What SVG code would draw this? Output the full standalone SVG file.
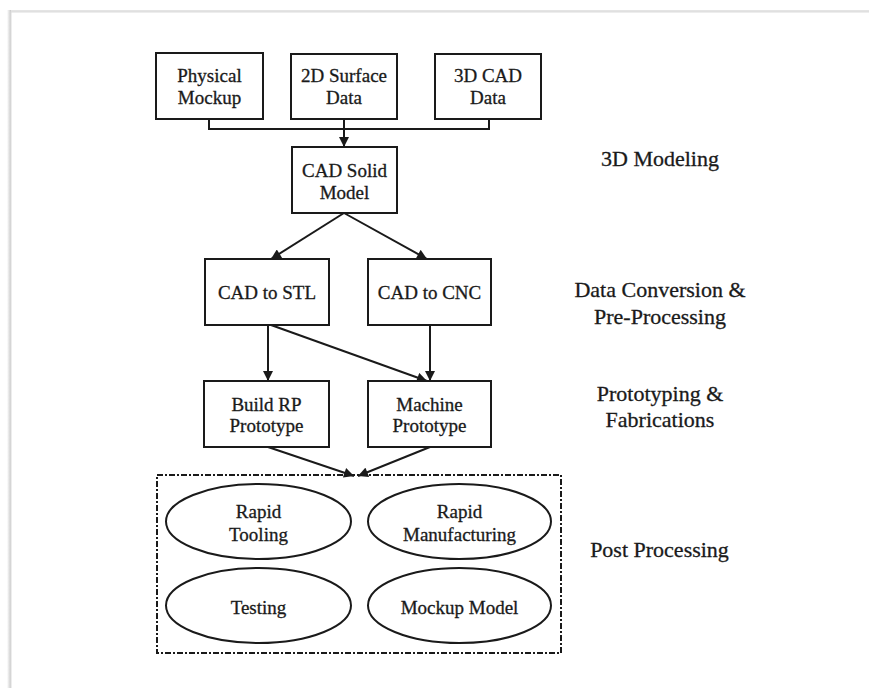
<svg xmlns="http://www.w3.org/2000/svg" width="869" height="688" viewBox="0 0 869 688">
<defs>
<marker id="arr" viewBox="0 0 10 10" refX="10" refY="5" markerWidth="5.5" markerHeight="5" orient="auto" markerUnits="strokeWidth">
<path d="M0,0 L10,5 L0,10 z" fill="#1a1a1a"/>
</marker>
<linearGradient id="shadow" x1="0" x2="1" y1="0" y2="0">
<stop offset="0" stop-color="#ffffff"/>
<stop offset="0.5" stop-color="#c8c8c8"/>
<stop offset="1" stop-color="#ffffff"/>
</linearGradient>
</defs>
<style>
.box{fill:#fff;stroke:#1a1a1a;stroke-width:2}
.ell{fill:#fff;stroke:#1a1a1a;stroke-width:2}
.t{font-family:"Liberation Serif","Times New Roman",serif;font-size:19px;fill:#1a1a1a;stroke:#1a1a1a;stroke-width:0.3;text-anchor:middle}
.lab{font-family:"Liberation Serif","Times New Roman",serif;font-size:22px;fill:#1a1a1a;stroke:#1a1a1a;stroke-width:0.3;text-anchor:middle}
.c{fill:none;stroke:#1a1a1a;stroke-width:2}
.ca{fill:none;stroke:#1a1a1a;stroke-width:2;marker-end:url(#arr)}
</style>
<rect width="869" height="688" fill="#fff"/>
<g id="frame">
<rect x="7" y="10" width="8" height="690" fill="url(#shadow)"/>
<rect x="11" y="10" width="870" height="2" fill="#e4e4e4"/>
<rect x="11" y="12" width="860" height="690" fill="#fff" stroke="#dcdcdc" stroke-width="1"/>
</g>
<g id="connectors">
<polyline class="c" points="209,119 209,129 489,129 489,119"/>
<line class="ca" x1="344" y1="119" x2="344" y2="147"/>
<line class="ca" x1="344" y1="213" x2="271" y2="259"/>
<line class="ca" x1="344" y1="213" x2="427" y2="259"/>
<line class="ca" x1="268" y1="325" x2="268" y2="381"/>
<line class="ca" x1="430" y1="325" x2="430" y2="381"/>
<line class="ca" x1="271" y1="325" x2="427" y2="381"/>
<line class="ca" x1="268" y1="447" x2="354" y2="476"/>
<line class="ca" x1="430" y1="447" x2="358" y2="476"/>
</g>
<g id="physical-mockup">
<rect class="box" x="156" y="53" width="107" height="66"/>
<text class="t" x="209.5" y="82">Physical</text>
<text class="t" x="209.5" y="104">Mockup</text>
</g>
<g id="surface-data">
<rect class="box" x="291" y="54" width="106" height="65"/>
<text class="t" x="344" y="82">2D Surface</text>
<text class="t" x="344" y="104">Data</text>
</g>
<g id="cad-data">
<rect class="box" x="435" y="54" width="106" height="65"/>
<text class="t" x="488" y="82">3D CAD</text>
<text class="t" x="488" y="104">Data</text>
</g>
<g id="cad-solid">
<rect class="box" x="292" y="147" width="105" height="66"/>
<text class="t" x="344.5" y="177">CAD Solid</text>
<text class="t" x="344.5" y="199">Model</text>
</g>
<g id="cad-stl">
<rect class="box" x="205" y="259" width="124" height="66"/>
<text class="t" x="267" y="299">CAD to STL</text>
</g>
<g id="cad-cnc">
<rect class="box" x="368" y="259" width="123" height="66"/>
<text class="t" x="429.5" y="299">CAD to CNC</text>
</g>
<g id="build-rp">
<rect class="box" x="204" y="381" width="125" height="66"/>
<text class="t" x="266.5" y="411">Build RP</text>
<text class="t" x="266.5" y="432">Prototype</text>
</g>
<g id="machine">
<rect class="box" x="368" y="381" width="123" height="66"/>
<text class="t" x="429.5" y="411">Machine</text>
<text class="t" x="429.5" y="432">Prototype</text>
</g>
<g id="post-processing-box">
<rect x="157" y="475" width="404" height="178" fill="none" stroke="#1a1a1a" stroke-width="2" stroke-dasharray="6 2 2 2"/>
</g>
<g id="rapid-tooling">
<ellipse class="ell" cx="258.5" cy="521.5" rx="92.5" ry="37.5"/>
<text class="t" x="258.5" y="518">Rapid</text>
<text class="t" x="258.5" y="541">Tooling</text>
</g>
<g id="rapid-manufacturing">
<ellipse class="ell" cx="459.5" cy="521.5" rx="91.5" ry="37.5"/>
<text class="t" x="459.5" y="518">Rapid</text>
<text class="t" x="459.5" y="541">Manufacturing</text>
</g>
<g id="testing">
<ellipse class="ell" cx="258.5" cy="605.5" rx="92.5" ry="37.5"/>
<text class="t" x="258.5" y="614">Testing</text>
</g>
<g id="mockup-model">
<ellipse class="ell" cx="459.5" cy="605.5" rx="91.5" ry="37.5"/>
<text class="t" x="459.5" y="614">Mockup Model</text>
</g>
<g id="labels">
<text class="lab" x="660" y="166">3D Modeling</text>
<text class="lab" x="660" y="297">Data Conversion &amp;</text>
<text class="lab" x="660" y="324">Pre-Processing</text>
<text class="lab" x="660" y="401">Prototyping &amp;</text>
<text class="lab" x="660" y="427">Fabrications</text>
<text class="lab" x="659.5" y="557">Post Processing</text>
</g>
</svg>
